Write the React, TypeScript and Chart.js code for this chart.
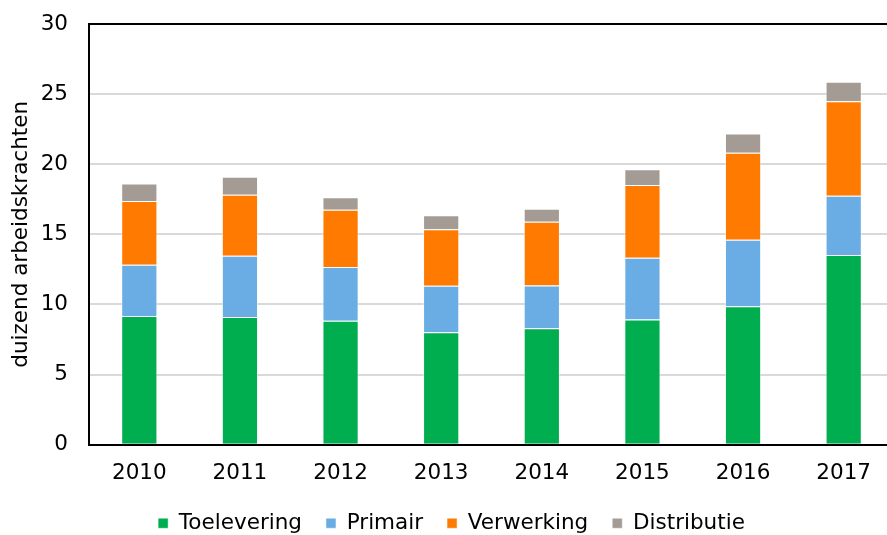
import React, { useEffect, useRef } from "react";
import { Chart, registerables } from "chart.js";

Chart.register(...registerables);

const categories = ["2010", "2011", "2012", "2013", "2014", "2015", "2016", "2017"];
const toelevering = [9.17, 9.1, 8.83, 8.02, 8.31, 8.93, 9.88, 13.52];
const primair = [3.66, 4.38, 3.84, 3.31, 3.05, 4.4, 4.74, 4.24];
const verwerking = [4.55, 4.35, 4.09, 4.03, 4.54, 5.19, 6.19, 6.74];
const distributie = [1.24, 1.27, 0.88, 1.0, 0.93, 1.12, 1.38, 1.38];
const seriesNames = ["Toelevering", "Primair", "Verwerking", "Distributie"];
const seriesColors = ["#00ad4f", "#6aade4", "#ff7a00", "#a49c94"];
const yTitle = "duizend arbeidskrachten";

export default function App() {
  const ref = useRef<HTMLCanvasElement | null>(null);
  useEffect(() => {
    if (!ref.current) return;
    const font = "'DejaVu Sans', Verdana, sans-serif";
    const fs = 21.5;
    const values = [toelevering, primair, verwerking, distributie];
    const chart = new Chart(ref.current, {
      type: "bar",
      data: {
        labels: categories,
        datasets: values.map((d, i) => ({
          label: seriesNames[i],
          data: d,
          backgroundColor: seriesColors[i],
          borderColor: "rgba(255,255,255,0.45)",
          borderWidth: 1,
          barPercentage: 0.36,
          categoryPercentage: 1,
        })),
      },
      options: {
        animation: false,
        responsive: false,
        maintainAspectRatio: false,
        layout: { padding: { left: 9, right: 1, top: 24, bottom: 0 } },
        plugins: {
          tooltip: { enabled: false },
          legend: {
            position: "bottom",
            labels: {
              font: { family: font, size: fs },
              color: "#000",
              boxWidth: 10,
              boxHeight: 10,
              padding: 24,
            },
          },
        },
        scales: {
          x: {
            stacked: true,
            grid: { display: false, drawTicks: false },
            border: { display: true, color: "#000", width: 2 },
            ticks: { font: { family: font, size: fs }, color: "#000", padding: 15.5 },
            afterFit: (scale: any) => {
              scale.height -= 13;
            },
          },
          y: {
            stacked: true,
            min: 0,
            max: 30,
            ticks: { stepSize: 5, font: { family: font, size: fs }, color: "#000", padding: 21 },
            grid: {
              drawTicks: false,
              color: (ctx: any) => (ctx.tick && ctx.tick.value === 30 ? "#000" : "#d9d9d9"),
              lineWidth: 2,
            },
            border: { display: true, color: "#000", width: 2 },
            title: {
              display: true,
              text: yTitle,
              font: { family: font, size: fs },
              color: "#000",
              padding: { top: 0, bottom: 6 },
            },
            afterFit: (scale: any) => {
              scale.width = 80;
              scale.paddingTop = 0;
            },
          },
        },
      },
    });
    return () => chart.destroy();
  }, []);
  return (
    <div style={{ position: "fixed", left: 0, top: 0, width: 887, height: 535, overflow: "hidden", background: "#fff" }}>
      <canvas ref={ref} width={895} height={544} style={{ display: "block", width: 895, height: 544 }} />
    </div>
  );
}
